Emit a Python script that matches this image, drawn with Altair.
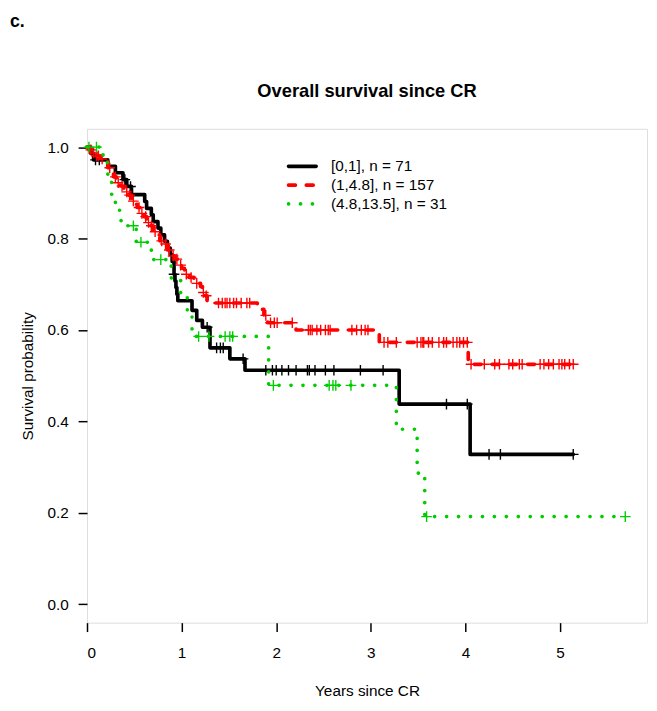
import altair as alt
import pandas as pd

# ---------------- data ----------------
groups = ["[0,1], n = 71", "(1,4.8], n = 157", "(4.8,13.5], n = 31"]
colors = ["#000000", "#FF0000", "#00CD00"]
dashes = [[1, 0], [7, 11], [0.1, 12]]
main_title = "Overall survival since CR"
panel_label = "c."

# Kaplan-Meier step times / survival after each step
black_t = [0.04, 0.07, 0.22, 0.30, 0.38, 0.42, 0.47, 0.61, 0.63, 0.68, 0.70, 0.75, 0.78,
           0.82, 0.85, 0.88, 0.90, 0.92, 0.93, 0.94, 0.95, 0.96, 1.11, 1.16, 1.22, 1.30,
           1.51, 1.67, 3.30, 4.05]
black_s = [0.986, 0.972, 0.958, 0.944, 0.929, 0.914, 0.896, 0.881, 0.866, 0.852, 0.837,
           0.823, 0.808, 0.794, 0.779, 0.765, 0.750, 0.722, 0.707, 0.693, 0.678, 0.664,
           0.643, 0.621, 0.606, 0.561, 0.537, 0.512, 0.438, 0.328]
black_cens = [0.09, 0.13, 0.40, 0.46, 0.92, 1.27, 1.37, 1.41, 1.44, 1.65, 1.89, 1.96, 2.00,
              2.06, 2.13, 2.21, 2.33, 2.35, 2.41, 2.52, 2.61, 2.89, 3.13, 3.80, 4.02, 4.25,
              4.37, 5.14]

red_t = [0.02, 0.06, 0.08, 0.14, 0.19, 0.22, 0.25, 0.28, 0.31, 0.35, 0.39, 0.44, 0.47,
         0.50, 0.53, 0.56, 0.60, 0.63, 0.66, 0.70, 0.73, 0.77, 0.81, 0.85, 0.89, 0.93,
         0.96, 1.00, 1.03, 1.08, 1.13, 1.20, 1.22, 1.25, 1.27, 1.80, 1.87, 1.91, 2.21,
         3.09, 4.03]
red_s = [0.994, 0.987, 0.981, 0.974, 0.968, 0.955, 0.948, 0.935, 0.922, 0.915, 0.902,
         0.895, 0.882, 0.875, 0.868, 0.855, 0.848, 0.835, 0.828, 0.815, 0.808, 0.795,
         0.788, 0.775, 0.762, 0.755, 0.742, 0.735, 0.722, 0.715, 0.702, 0.695, 0.682,
         0.675, 0.659, 0.645, 0.632, 0.616, 0.600, 0.573, 0.525]
red_cens = [0.04, 0.07, 0.10, 0.12, 0.16, 0.24, 0.30, 0.33, 0.37, 0.42, 0.45, 0.49, 0.55,
            0.58, 0.62, 0.65, 0.68, 0.72, 0.79, 0.83, 0.87, 0.91, 0.95, 0.99, 1.05, 1.10,
            1.16, 1.23, 1.26, 1.39, 1.43, 1.46, 1.48, 1.51, 1.55, 1.58, 1.63, 1.69, 1.72,
            1.89, 1.94, 1.98, 2.01, 2.17, 2.34, 2.36, 2.38, 2.43, 2.47, 2.52, 2.55, 2.57,
            2.80, 2.85, 2.90, 2.94, 2.97, 3.14, 3.18, 3.27, 3.49, 3.53, 3.55, 3.56, 3.61,
            3.65, 3.72, 3.77, 3.80, 3.87, 3.91, 3.94, 3.98, 4.02, 4.06, 4.20, 4.31, 4.36,
            4.46, 4.50, 4.57, 4.60, 4.79, 4.83, 4.88, 4.93, 4.99, 5.02, 5.05, 5.10, 5.14]

green_t = [0.17, 0.22, 0.26, 0.30, 0.36, 0.52, 0.68, 0.89, 0.99, 1.06, 1.11, 1.92, 3.27,
           3.49, 3.57]
green_s = [0.966, 0.931, 0.897, 0.862, 0.828, 0.792, 0.754, 0.714, 0.675, 0.635, 0.586,
           0.479, 0.383, 0.287, 0.192]
green_cens = [0.02, 0.10, 0.49, 0.57, 0.78, 1.18, 1.29, 1.46, 1.51, 1.54, 1.97, 2.56, 2.60,
              2.63, 2.79, 3.59, 5.69]

x_ticks = [0, 1, 2, 3, 4, 5]
y_ticks = [0.0, 0.2, 0.4, 0.6, 0.8, 1.0]

series = [(black_t, black_s, black_cens), (red_t, red_s, red_cens),
          (green_t, green_s, green_cens)]

# ---------------- build tables ----------------
def surv_at(ts, ss, c):
    v = 1.0
    for t, s in zip(ts, ss):
        if t <= c:
            v = s
    return v

W, H = 567, 500
xs = alt.Scale(domain=[0, 5.92], nice=False, zero=False)
ys = alt.Scale(domain=[-0.04, 1.04], nice=False, zero=False)

font = "Liberation Sans"
FS = 15.5
layers = []
for g, col, dsh, (ts, ss, cs) in zip(groups, colors, dashes, series):
    pts = [(0.0, 1.0)] + list(zip(ts, ss)) + [(max(cs), ss[-1])]
    line_df = pd.DataFrame({"t": [p[0] for p in pts], "S": [p[1] for p in pts],
                            "o": list(range(len(pts))), "group": g})
    cens_df = pd.DataFrame({"t": cs, "S": [surv_at(ts, ss, c) for c in cs], "group": g})
    line = alt.Chart(line_df).mark_line(
        interpolate="step-after", color=col, strokeWidth=3.7, strokeDash=dsh,
        strokeCap="round", strokeJoin="round"
    ).encode(
        x=alt.X("t:Q", scale=xs,
                axis=alt.Axis(values=x_ticks, title="Years since CR", format="d",
                              tickSize=9, labelPadding=14, titlePadding=23, domain=False,
                              grid=False, tickColor="black", labelColor="black",
                              labelFontSize=FS, titleFontSize=FS, labelFont=font,
                              titleFont=font, titleFontWeight="normal", tickWidth=1.5,
                              titleColor="black")),
        y=alt.Y("S:Q", scale=ys,
                axis=alt.Axis(values=y_ticks, title="Survival probability", format=".1f",
                              tickSize=9, labelPadding=10, titlePadding=12, domain=False,
                              grid=False, tickColor="black", labelColor="black",
                              labelFontSize=FS, titleFontSize=FS, labelFont=font,
                              titleFont=font, titleFontWeight="normal", tickWidth=1.5,
                              titleColor="black")),
        order="o:Q",
    )
    marks = alt.Chart(cens_df).mark_point(
        shape="M-1,0L1,0M0,-1L0,1", size=115, filled=False, color=col, strokeWidth=1.4,
        opacity=1
    ).encode(x=alt.X("t:Q", scale=xs), y=alt.Y("S:Q", scale=ys))
    layers += [line, marks]

# legend (drawn inside the plot, as in R)
leg_df = pd.DataFrame({"label": groups})
leg_y = alt.Y("label:N", scale=alt.Scale(type="point", domain=groups, range=[38, 76],
                                          padding=0), axis=None)
leg_lines = alt.Chart(leg_df).mark_rule(strokeWidth=3.7, strokeCap="round").encode(
    x=alt.value(204), x2=alt.value(232), y=leg_y,
    color=alt.Color("label:N", scale=alt.Scale(domain=groups, range=colors), legend=None),
    strokeDash=alt.StrokeDash("label:N", scale=alt.Scale(domain=groups, range=dashes),
                              legend=None),
)
leg_text = alt.Chart(leg_df).mark_text(align="left", baseline="middle", fontSize=FS,
                                       font=font, color="black").encode(
    x=alt.value(247), y=leg_y, text="label:N")

panel_df = pd.DataFrame({"lab": [panel_label]})
panel = alt.Chart(panel_df).mark_text(align="left", baseline="top", fontSize=18,
                                      fontWeight="bold", font=font, color="black").encode(
    x=alt.value(-78), y=alt.value(-117), text="lab:N")

title_df = pd.DataFrame({"lab": [main_title]})
title = alt.Chart(title_df).mark_text(align="center", baseline="middle", fontSize=18.5,
                                      fontWeight="bold", font=font, color="black").encode(
    x=alt.value(W / 2), y=alt.value(-38), text="lab:N")

chart = alt.layer(*layers, panel, title).properties(width=W, height=H)
chart = alt.layer(chart, leg_lines, leg_text).resolve_scale(y="independent").properties(
    width=W, height=H,
    autosize=alt.AutoSizeParams(type="none"),
    padding={"left": 80, "top": 118, "right": 2, "bottom": 77},
).configure_view(stroke="black", strokeWidth=2).configure(background="white")

chart.save("out.html", embed_options={"renderer": "svg", "actions": False})
